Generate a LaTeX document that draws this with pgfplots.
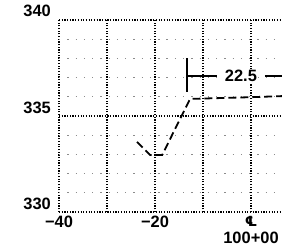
\documentclass[border=0pt]{standalone}
\usepackage{fontspec}
\setmainfont{Liberation Sans}
\newfontfamily\dejavu{DejaVu Sans}
\usepackage{pgfplots}
\pgfplotsset{compat=1.18}
\begin{document}
\begin{tikzpicture}
\path[use as bounding box] (-59bp,-36bp) rectangle (223bp,192bp+20bp);
\begin{axis}[
  at={(0,0)}, anchor=south west,
  scale only axis,
  x=4.8bp, y=19.2bp,
  xmin=-40, xmax=8, ymin=330, ymax=340,
  axis line style={draw=none},
  xtick={-40,-30,-20,-10,0},
  xticklabels={{−40},{},{−20},{},{{\dejavu\bfseries\fontsize{14}{14}\selectfont ℄}\\100+00}},
  ytick={330,335,340},
  yticklabels={330,335,340},
  minor ytick={331,332,333,334,336,337,338,339},
  major tick length=0pt, minor tick length=0pt,
  tick style={draw=none},
  grid=both,
  major grid style={black, line width=1.2pt, dash pattern=on 1.2pt off 1.5pt},
  minor grid style={black!45, line width=1.3pt, dash pattern=on 1.3pt off 7pt},
  ticklabel style={font=\fontsize{16.5}{17}\selectfont\bfseries},
  xticklabel style={anchor=north, inner sep=0pt, yshift=-4bp, align=center},
  yticklabel style={anchor=base east, inner sep=0pt, xshift=-8bp, yshift=3bp},
  clip=true,
]
\addplot[black, line width=1.8pt, dash pattern=on 8pt off 4pt] coordinates {
  (-23.75,333.65) (-21.0,332.97) (-18.5,332.97) (-12.7,335.89) (0,335.98) (8,336.05)
};
\draw[black, line width=1.5pt] (axis cs:-13.33,336.25) -- (axis cs:-13.33,338.02);
\draw[black, line width=1.5pt] (axis cs:-13.33,337.08) -- (axis cs:-7.1,337.08);
\node[font=\fontsize{16.5}{16.5}\selectfont\bfseries, fill=white, inner sep=1pt] at (axis cs:-2.1,337.08) {22.5};
\draw[black, line width=1.5pt] (axis cs:2.9,337.08) -- (axis cs:8,337.08);
\end{axis}
\end{tikzpicture}
\end{document}
